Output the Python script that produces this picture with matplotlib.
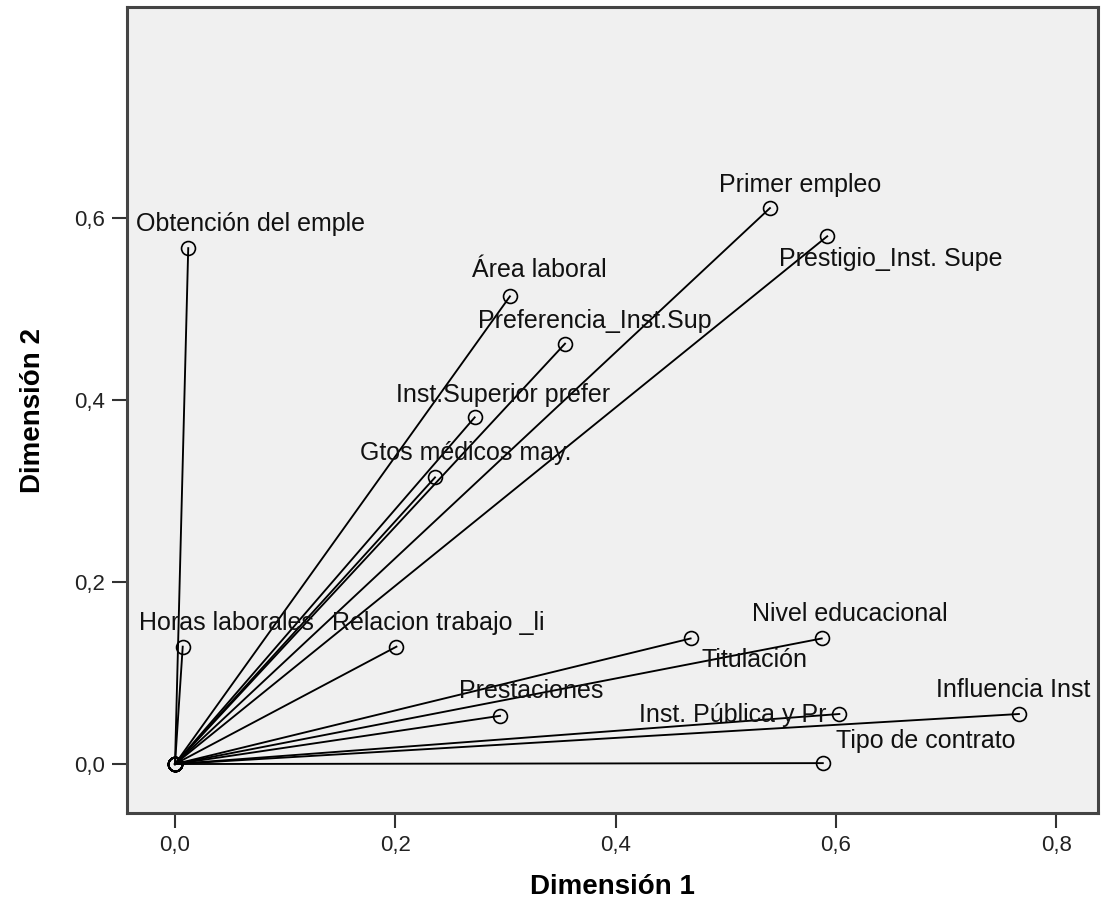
import matplotlib
matplotlib.use('Agg')
import matplotlib.pyplot as plt

# discrimination measures (dimension 1, dimension 2)
variables = ['Obtención del emple', 'Primer empleo', 'Prestigio_Inst. Supe', 'Área laboral',
             'Preferencia_Inst.Sup', 'Inst.Superior prefer', 'Gtos médicos may.',
             'Horas laborales', 'Relacion trabajo _li', 'Nivel educacional', 'Titulación',
             'Prestaciones', 'Inst. Pública y Pr', 'Influencia Inst', 'Tipo de contrato']
dim1 = [0.012, 0.540, 0.592, 0.304, 0.354, 0.272, 0.236,
        0.007, 0.201, 0.587, 0.468, 0.295, 0.603, 0.766, 0.588]
dim2 = [0.567, 0.611, 0.580, 0.514, 0.462, 0.381, 0.315,
        0.129, 0.129, 0.138, 0.138, 0.053, 0.055, 0.055, 0.001]

xticks = [0.0, 0.2, 0.4, 0.6, 0.8]
yticks = [0.0, 0.2, 0.4, 0.6]

# label offsets in pixels (text centre / baseline relative to the point)
label_offsets = [(62, 17), (30, 16), (64, -30), (29, 19), (30, 16), (28, 15), (31, 17),
                 (44, 17), (42, 17), (28, 17), (64, -29), (31, 18), (-107, -8), (-6, 17), (103, 15)]

plt.rcParams['font.family'] = ['Liberation Sans', 'DejaVu Sans']

fig = plt.figure(figsize=(11.07, 9.10), dpi=100)
ax = fig.add_axes([0.1147, 0.1066, 0.877, 0.8857])
ax.set_facecolor('#f0f0f0')

for x, y in zip(dim1, dim2):
    ax.plot([0, x], [0, y], color='black', lw=1.35, zorder=2)
    ax.plot(0, 0, 'o', ms=10, mfc='none', mec='black', mew=1.2, zorder=3)
ax.plot(dim1, dim2, 'o', ms=10, mfc='none', mec='black', mew=1.2, zorder=3, linestyle='none')

for name, x, y, (dx, dy) in zip(variables, dim1, dim2, label_offsets):
    ax.annotate(name, (x, y), xytext=(dx, dy), textcoords='offset pixels',
                ha='center', va='baseline', fontsize=18, color='#111111', zorder=4)

ax.set_xlim(-0.0436, 0.8376)
ax.set_ylim(-0.0538, 0.832)
ax.set_xticks(xticks)
ax.set_yticks(yticks)
ax.set_xticklabels([f'{t:.1f}'.replace('.', ',') for t in xticks])
ax.set_yticklabels([f'{t:.1f}'.replace('.', ',') for t in yticks])
ax.tick_params(direction='out', length=11, width=1.5, color='#333333',
               labelsize=16, labelcolor='#222222', pad=5)

for sp in ax.spines.values():
    sp.set_color('#444444')
    sp.set_linewidth(2.2)

ax.set_xlabel('Dimensión 1', fontsize=20, fontweight='bold', labelpad=13)
ax.set_ylabel('Dimensión 2', fontsize=20, fontweight='bold', labelpad=20)

plt.savefig('out.png', dpi=100)
